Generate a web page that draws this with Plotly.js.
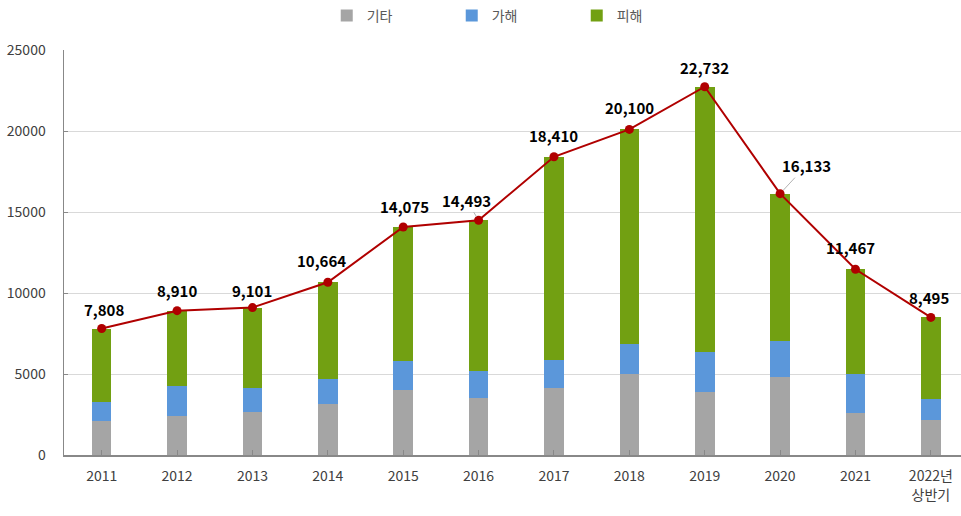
<!DOCTYPE html>
<html>
<head>
<meta charset="utf-8">
<script src="https://cdn.plot.ly/plotly-3.0.1.min.js"></script>
<style>html,body{margin:0;padding:0;background:#fff;}#chart{width:961px;height:516px;}</style>
</head>
<body>
<div id="chart"></div>
<script>
const categories = ['2011','2012','2013','2014','2015','2016','2017','2018','2019','2020','2021','2022년<br>상반기'];
const other   = [2100, 2430, 2650, 3150, 4010, 3540, 4160, 4980, 3890, 4810, 2610, 2160];   // 기타
const offender= [1190, 1850, 1460, 1540, 1790, 1660, 1680, 1850, 2450, 2210, 2370, 1280];   // 가해
const victim  = [4518, 4630, 4991, 5974, 8275, 9293, 12570, 13270, 16392, 9113, 6487, 5055]; // 피해
const totals  = [7808, 8910, 9101, 10664, 14075, 14493, 18410, 20100, 22732, 16133, 11467, 8495];
const totalLabels = ['7,808','8,910','9,101','10,664','14,075','14,493','18,410','20,100','22,732','16,133','11,467','8,495'];
const yTicks = [0, 5000, 10000, 15000, 20000, 25000];

const xIdx = categories.map((c, i) => i);
const FONT = '"Noto Sans CJK KR", "Noto Sans", sans-serif';

const traces = [
  {type:'bar', name:'기타', x:xIdx, y:other, marker:{color:'#A5A5A5'}, width:0.26, hoverinfo:'skip'},
  {type:'bar', name:'가해', x:xIdx, y:offender, marker:{color:'#5B97DA'}, width:0.26, hoverinfo:'skip'},
  {type:'bar', name:'피해', x:xIdx, y:victim, marker:{color:'#72A012'}, width:0.26, hoverinfo:'skip'},
  {type:'scatter', mode:'lines+markers', x:xIdx, y:totals, showlegend:false,
   line:{color:'#B00000', width:2}, marker:{color:'#B00000', size:9, symbol:'circle'}, hoverinfo:'skip'}
];

const shifts = {
  0:{xs:2, ys:19}, 1:{xs:0, ys:20}, 2:{xs:0, ys:17}, 3:{xs:-6, ys:22}, 4:{xs:1, ys:20},
  6:{xs:0, ys:21}, 7:{xs:0, ys:22}, 8:{xs:0, ys:19}, 10:{xs:-5, ys:22}, 11:{xs:-2, ys:20}
};
const annotations = [];
totals.forEach((v, i) => {
  const base = {x:i, y:v, xref:'x', yref:'y', text:'<b>'+totalLabels[i]+'</b>',
    font:{family:FONT, size:15, color:'#000'}};
  if (i === 5) {
    annotations.push(Object.assign(base, {showarrow:true, arrowhead:0, arrowwidth:0.8, arrowcolor:'#A0A0A0',
      ax:-12, ay:-20, standoff:4}));
  } else if (i === 9) {
    annotations.push(Object.assign(base, {showarrow:true, arrowhead:0, arrowwidth:0.8, arrowcolor:'#A0A0A0',
      ax:26, ay:-28, standoff:5}));
  } else {
    annotations.push(Object.assign(base, {showarrow:false, xshift:shifts[i].xs, yshift:shifts[i].ys}));
  }
});

const layout = {
  width:961, height:516,
  margin:{l:64, r:0, t:50, b:61},
  paper_bgcolor:'#fff', plot_bgcolor:'#fff',
  barmode:'stack',
  font:{family:FONT, size:14, color:'#595959'},
  showlegend:true,
  legend:{orientation:'h', xref:'container', x:0.34, xanchor:'left', yref:'container', y:1, yanchor:'top',
    entrywidth:80, entrywidthmode:'pixels', traceorder:'normal', bgcolor:'rgba(0,0,0,0)',
    font:{family:FONT, size:14, color:'#595959'}, itemwidth:30},
  xaxis:{
    range:[-0.5, 11.4], tickmode:'array', tickvals:xIdx, ticktext:categories,
    tickson:'boundaries', ticks:'inside', ticklen:5, tickcolor:'#888',
    showline:true, linecolor:'#888', linewidth:1.5, showgrid:false, zeroline:false,
    ticklabelstandoff:8, tickfont:{family:FONT, size:14, color:'#404040'}
  },
  yaxis:{
    range:[0, 25000], tickmode:'array', tickvals:yTicks, ticktext:yTicks.map(String),
    ticks:'inside', ticklen:4, tickcolor:'#888',
    showline:true, linecolor:'#888', linewidth:1.5,
    showgrid:true, gridcolor:'#D9D9D9', gridwidth:1, zeroline:false,
    ticklabelstandoff:14, tickfont:{family:FONT, size:14, color:'#404040'}
  },
  annotations:annotations
};
Plotly.newPlot('chart', traces, layout, {displayModeBar:false, staticPlot:true});
</script>
</body>
</html>
